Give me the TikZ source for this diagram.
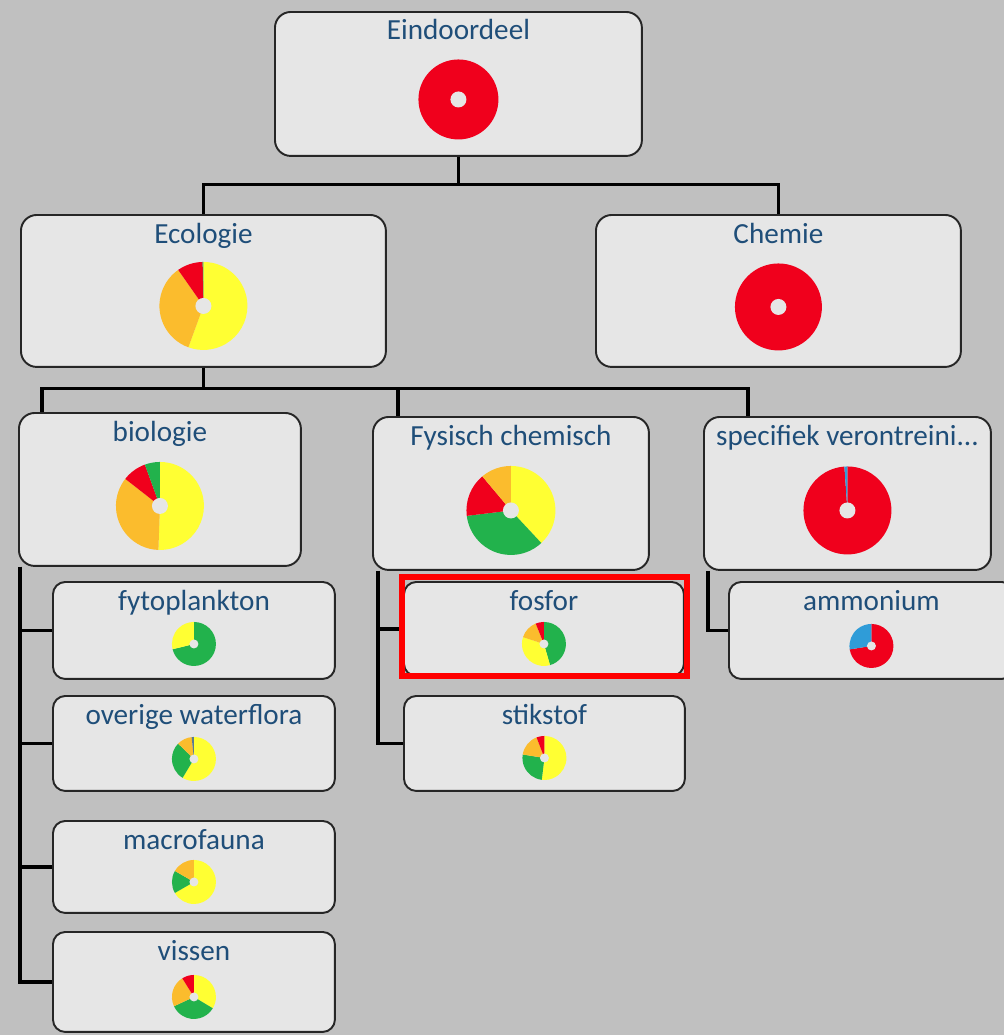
\documentclass[tikz,border=0pt]{standalone}
\usepackage{fontspec}
\setmainfont{Carlito}
\usetikzlibrary{positioning}
\definecolor{bg}{HTML}{C0C0C0}
\definecolor{boxfill}{HTML}{E6E6E6}
\definecolor{ttlblue}{HTML}{1F4E79}
\definecolor{pred}{HTML}{F0001C}
\definecolor{pyel}{HTML}{FFFF33}
\definecolor{pora}{HTML}{FBBC2D}
\definecolor{pgrn}{HTML}{22B24C}
\definecolor{pblu}{HTML}{2F9CD8}
\definecolor{pslate}{HTML}{5A7A90}
\tikzset{
  box/.style={draw=black!85, fill=boxfill, line width=1.1pt, rounded corners=9pt,
    anchor=north west, inner sep=0pt},
  smallbox/.style={box, rounded corners=7pt},
  ttl/.style={text=ttlblue, font=\fontsize{16.6}{19}\selectfont, anchor=base, inner sep=0pt},
  conn/.style={line width=1.8pt},
  hilite/.style={draw=red, line width=3.4pt},
}
\newcommand{\donut}[4]{%
  \foreach \from/\to/\col in {#4}
    \fill[\col] #1 -- ++({90-\from}:#2)
      arc[start angle={90-\from}, end angle={90-\to}, radius=#2] -- cycle;
  \fill[boxfill] #1 circle[radius=#3];}
\begin{document}
\begin{tikzpicture}[x=0.02cm,y=0.02cm]
  \useasboundingbox (0,0) rectangle (1004,-1035);
  \clip (0,0) rectangle (1004,-1035);
  \fill[bg] (0,0) rectangle (1004,-1035);
  \node[box, minimum width=7.34cm, minimum height=2.88cm] (eind) at (274,-11) {};
  \node[box, minimum width=7.3cm, minimum height=3.04cm] (eco) at (20,-214) {};
  \node[box, minimum width=7.3cm, minimum height=3.04cm] (chem) at (595,-214) {};
  \node[box, minimum width=5.64cm, minimum height=3.06cm] (bio) at (18,-412) {};
  \node[box, minimum width=5.52cm, minimum height=3.06cm] (fys) at (372,-416) {};
  \node[box, minimum width=5.74cm, minimum height=3.06cm] (spec) at (703,-416) {};
  \node[smallbox, minimum width=5.64cm, minimum height=1.94cm] (fyto) at (52,-581) {};
  \node[smallbox, minimum width=5.6cm, minimum height=1.88cm] (fosfor) at (403,-581) {};
  \node[smallbox, minimum width=5.7cm, minimum height=1.94cm] (amm) at (728,-581) {};
  \node[smallbox, minimum width=5.64cm, minimum height=1.9cm] (over) at (52,-695) {};
  \node[smallbox, minimum width=5.62cm, minimum height=1.9cm] (stik) at (403,-695) {};
  \node[smallbox, minimum width=5.64cm, minimum height=1.84cm] (macro) at (52,-820) {};
  \node[smallbox, minimum width=5.64cm, minimum height=2.0cm] (vis) at (52,-931) {};

  \node[ttl] (eindt) at ([yshift=-0.58cm]eind.north) {Eindoordeel};
  \node[ttl] (ecot) at ([yshift=-0.58cm]eco.north) {Ecologie};
  \node[ttl] (chemt) at ([yshift=-0.58cm]chem.north) {Chemie};
  \node[ttl] (biot) at ([yshift=-0.58cm]bio.north) {biologie};
  \node[ttl] (fyst) at ([yshift=-0.58cm]fys.north) {Fysisch chemisch};
  \node[ttl] (spect) at ([yshift=-0.58cm]spec.north) {specifiek verontreini...};
  \node[ttl] (fytot) at ([yshift=-0.58cm]fyto.north) {fytoplankton};
  \node[ttl] (fosfort) at ([yshift=-0.58cm]fosfor.north) {fosfor};
  \node[ttl] (ammt) at ([yshift=-0.58cm]amm.north) {ammonium};
  \node[ttl] (overt) at ([yshift=-0.58cm]over.north) {overige waterflora};
  \node[ttl] (stikt) at ([yshift=-0.58cm]stik.north) {stikstof};
  \node[ttl] (macrot) at ([yshift=-0.58cm]macro.north) {macrofauna};
  \node[ttl] (vist) at ([yshift=-0.58cm]vis.north) {vissen};

  \draw[conn] (eind.south) -- ++(0,-28) -| (eco.north);
  \draw[conn] (eind.south) -- ++(0,-28) -| (chem.north);
  \draw[conn] (eco.south) -- ++(0,-21) -| ([xshift=0.48cm]bio.north west);
  \draw[conn] (eco.south) -- ++(0,-21) -| ([xshift=0.52cm]fys.north west);
  \draw[conn] (eco.south) -- ++(0,-21) -| ([xshift=0.9cm]spec.north west);
  \foreach \c in {fyto,over,macro,vis}
    \draw[conn] ([xshift=0.04cm]bio.south west) |- (\c.west);
  \foreach \c in {fosfor,stik}
    \draw[conn] ([xshift=0.12cm]fys.south west) |- (\c.west);
  \draw[conn] ([xshift=0.1cm]spec.south west) |- (amm.west);

  \donut{([yshift=-0.31cm]eind.center)}{0.8cm}{0.16cm}{0/360/pred}
  \donut{([yshift=-0.3cm]eco.center)}{0.88cm}{0.16cm}
    {0/200/pyel, 200/325/pora, 325/359/pred, 359/360/pgrn}
  \donut{([yshift=-0.32cm]chem.center)}{0.87cm}{0.16cm}{0/360/pred}
  \donut{([yshift=-0.33cm]bio.center)}{0.88cm}{0.16cm}
    {0/182/pyel, 182/308/pora, 308/340/pred, 340/360/pgrn}
  \donut{([yshift=-0.34cm]fys.center)}{0.89cm}{0.16cm}
    {0/137/pyel, 137/263/pgrn, 263/320/pred, 320/360/pora}
  \donut{([yshift=-0.34cm]spec.center)}{0.88cm}{0.16cm}{0/356/pred, 356/360/pblu}
  \donut{([yshift=-0.27cm]fyto.center)}{0.44cm}{0.09cm}{0/256/pgrn, 256/360/pyel}
  \donut{([yshift=-0.3cm]fosfor.center)}{0.44cm}{0.09cm}
    {0/164/pgrn, 164/288/pyel, 288/338/pora, 338/360/pred}
  \donut{([yshift=-0.31cm]amm.center)}{0.44cm}{0.09cm}{0/261/pred, 261/360/pblu}
  \donut{([yshift=-0.31cm]over.center)}{0.44cm}{0.09cm}
    {0/211/pyel, 211/314/pgrn, 314/354/pora, 354/360/pslate}
  \donut{([yshift=-0.29cm]stik.center)}{0.44cm}{0.09cm}
    {0/187/pyel, 187/279/pgrn, 279/339/pora, 339/360/pred}
  \donut{([yshift=-0.3cm]macro.center)}{0.44cm}{0.09cm}
    {0/240/pyel, 240/300/pgrn, 300/360/pora}
  \donut{([yshift=-0.3cm]vis.center)}{0.44cm}{0.09cm}
    {0/121/pyel, 121/245/pgrn, 245/328/pora, 328/360/pred}

  \draw[hilite] ([shift={(-1,4)}]fosfor.north west) rectangle ([shift={(2,1)}]fosfor.south east);
\end{tikzpicture}
\end{document}
